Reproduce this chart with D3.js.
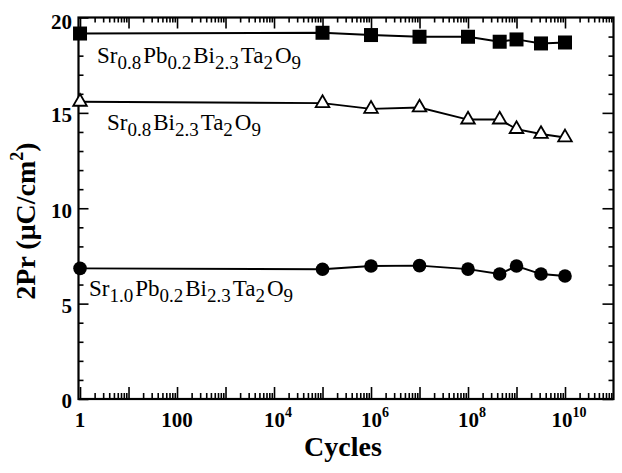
<!DOCTYPE html>
<html>
<head>
<meta charset="utf-8">
<script src="https://cdn.jsdelivr.net/npm/d3@7"></script>
<style>
  body { margin: 0; background: #fff; }
  text { font-family: "Liberation Serif", "Times New Roman", serif; fill: #000; }
  .ticklab { font-weight: bold; font-size: 21px; }
</style>
</head>
<body>
<script>
// cycles (x) shared by all three samples
var cycles = [1, 1e5, 1e6, 1e7, 1e8, 4.5e8, 1e9, 3.2e9, 1e10];

// 2Pr values
var prSrPb08 = [19.16, 19.2, 19.08, 18.99, 18.99, 18.73, 18.85, 18.64, 18.69];   // squares
var prSr08 = [15.58, 15.51, 15.21, 15.28, 14.65, 14.65, 14.15, 13.89, 13.71];   // triangles
var prSr10Pb = [6.85, 6.80, 6.97, 6.99, 6.81, 6.55, 6.97, 6.55, 6.45];          // circles

var yTicks = [0, 5, 10, 15, 20];
var xTickLabels = [
  {v: 1, base: "1"}, {v: 100, base: "100"}, {v: 1e4, base: "10", exp: "4"},
  {v: 1e6, base: "10", exp: "6"}, {v: 1e8, base: "10", exp: "8"}, {v: 1e10, base: "10", exp: "10"}
];

// formula pieces: [text, isSubscript]
var labelSrPb08 = [["Sr", 0], ["0.8", 1], ["Pb", 0], ["0.2", 1], ["Bi", 0], ["2.3", 1], ["Ta", 0], ["2", 1], ["O", 0], ["9", 1]];
var labelSr08 = [["Sr", 0], ["0.8", 1], ["Bi", 0], ["2.3", 1], ["Ta", 0], ["2", 1], ["O", 0], ["9", 1]];
var labelSr10Pb = [["Sr", 0], ["1.0", 1], ["Pb", 0], ["0.2", 1], ["Bi", 0], ["2.3", 1], ["Ta", 0], ["2", 1], ["O", 0], ["9", 1]];

var W = 622, H = 473;
var plotL = 78.5, plotR = 613.5, plotT = 17.5, plotB = 399;

var svg = d3.select('body').append('svg')
    .attr('width', W)
    .attr('height', H);

svg.append('rect').attr('width', W).attr('height', H).attr('fill', '#fff');

var xScale = d3.scaleLog()
    .domain([0.93, 1e11])
    .range([plotL, plotR]);

var yScale = d3.scaleLinear()
    .domain([0, 20])
    .range([plotB, plotT]);

// minor / major tick values for the log axis
var decades = d3.range(0, 11).map(function (e) { return Math.pow(10, e); });
var minors = [];
decades.forEach(function (d) {
  for (var k = 2; k <= 9; k++) minors.push(d * k);
});
var yMinor = d3.range(0, 21).filter(function (v) { return v % 5 !== 0; });

function noLabel() { return ""; }

// bottom & top ticks (pointing inward)
svg.append('g').attr('transform', 'translate(0,' + plotB + ')')
    .call(d3.axisTop(xScale).tickValues(decades).tickSize(12).tickFormat(noLabel));
svg.append('g').attr('transform', 'translate(0,' + plotB + ')')
    .call(d3.axisTop(xScale).tickValues(minors).tickSize(6).tickFormat(noLabel));
svg.append('g').attr('transform', 'translate(0,' + plotT + ')')
    .call(d3.axisBottom(xScale).tickValues(decades).tickSize(11).tickFormat(noLabel));
svg.append('g').attr('transform', 'translate(0,' + plotT + ')')
    .call(d3.axisBottom(xScale).tickValues(minors).tickSize(5).tickFormat(noLabel));

// left & right ticks
svg.append('g').attr('transform', 'translate(' + plotL + ',0)')
    .call(d3.axisRight(yScale).tickValues(yTicks).tickSize(10).tickFormat(noLabel));
svg.append('g').attr('transform', 'translate(' + plotL + ',0)')
    .call(d3.axisRight(yScale).tickValues(yMinor).tickSize(5).tickFormat(noLabel));
svg.append('g').attr('transform', 'translate(' + plotR + ',0)')
    .call(d3.axisLeft(yScale).tickValues(yTicks).tickSize(11).tickFormat(noLabel));
svg.append('g').attr('transform', 'translate(' + plotR + ',0)')
    .call(d3.axisLeft(yScale).tickValues(yMinor).tickSize(5).tickFormat(noLabel));

svg.selectAll('.domain').remove();
svg.selectAll('.tick line').attr('stroke', '#000').attr('stroke-width', 1.6);

// frame
svg.append('rect')
    .attr('x', plotL).attr('y', plotT)
    .attr('width', plotR - plotL).attr('height', plotB - plotT)
    .attr('fill', 'none').attr('stroke', '#000').attr('stroke-width', 2.2);

// y tick labels
svg.selectAll('.ylab').data(yTicks).enter().append('text')
    .attr('class', 'ticklab')
    .attr('x', 72)
    .attr('y', function (d) { return yScale(d) + (d === 20 ? 4 : 2); })
    .attr('dy', '0.35em')
    .attr('text-anchor', 'end')
    .text(function (d) { return d; });

// x tick labels with exponents
var xl = svg.selectAll('.xlab').data(xTickLabels).enter().append('text')
    .attr('class', 'ticklab')
    .attr('x', function (d) { return xScale(d.v) + (d.exp ? 4 : 0); })
    .attr('y', 427)
    .attr('text-anchor', 'middle');
xl.append('tspan').text(function (d) { return d.base; });
xl.append('tspan')
    .attr('dy', -10)
    .style('font-size', '14px')
    .text(function (d) { return d.exp || ""; });

// axis titles
svg.append('text')
    .attr('x', 343).attr('y', 456)
    .attr('text-anchor', 'middle')
    .style('font-weight', 'bold').style('font-size', '28px')
    .text('Cycles');

var yt = svg.append('text')
    .attr('transform', 'translate(35,221) rotate(-90)')
    .attr('text-anchor', 'middle')
    .style('font-weight', 'bold').style('font-size', '28px');
yt.append('tspan').text('2Pr (\u03bcC/cm');
yt.append('tspan').attr('dy', -12).style('font-size', '18px').text('2');
yt.append('tspan').attr('dy', 12).text(')');

// series
var line = d3.line()
    .x(function (d) { return xScale(d[0]); })
    .y(function (d) { return yScale(d[1]); });

function pairs(vals) { return cycles.map(function (c, i) { return [c, vals[i]]; }); }

[prSrPb08, prSr08, prSr10Pb].forEach(function (vals) {
  svg.append('path')
      .datum(pairs(vals))
      .attr('d', line)
      .attr('fill', 'none')
      .attr('stroke', '#000')
      .attr('stroke-width', 1.9);
});

svg.selectAll('.sq').data(pairs(prSrPb08)).enter().append('rect')
    .attr('x', function (d) { return xScale(d[0]) - 7; })
    .attr('y', function (d) { return yScale(d[1]) - 7; })
    .attr('width', 14).attr('height', 14)
    .attr('fill', '#000');

svg.selectAll('.tri').data(pairs(prSr08)).enter().append('path')
    .attr('d', d3.symbol().type(d3.symbolTriangle).size(80))
    .attr('transform', function (d) { return 'translate(' + xScale(d[0]) + ',' + yScale(d[1]) + ')'; })
    .attr('fill', '#fff')
    .attr('stroke', '#000')
    .attr('stroke-width', 1.8);

svg.selectAll('.dot').data(pairs(prSr10Pb)).enter().append('circle')
    .attr('cx', function (d) { return xScale(d[0]); })
    .attr('cy', function (d) { return yScale(d[1]); })
    .attr('r', 6.8)
    .attr('fill', '#000');

// formula labels
function formula(parts, x, y) {
  var t = svg.append('text').attr('x', x).attr('y', y).style('font-size', '23px');
  var down = false;
  parts.forEach(function (p, i) {
    var s = t.append('tspan').text(p[0]);
    if (p[1]) {
      s.style('font-size', '19px').attr('dy', down ? 0 : 6);
      down = true;
    } else {
      s.attr('dy', down ? -6 : 0);
      down = false;
      if (i > 0) s.attr('dx', 2);
    }
  });
}
formula(labelSrPb08, 97, 63);
formula(labelSr08, 107, 130);
formula(labelSr10Pb, 89, 296);
</script>
</body>
</html>
